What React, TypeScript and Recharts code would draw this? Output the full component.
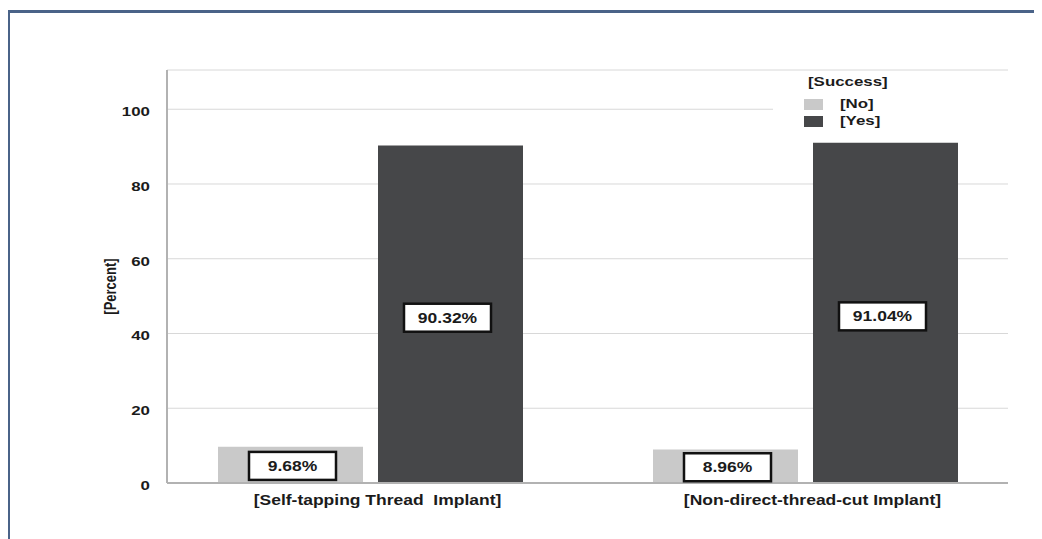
import React from 'react';
import {
  BarChart,
  Bar,
  XAxis,
  YAxis,
  CartesianGrid,
  Legend,
  LabelList,
} from 'recharts';

const categories = ['[Self-tapping Thread  Implant]', '[Non-direct-thread-cut Implant]'];
const noValues = [9.68, 8.96];
const yesValues = [90.32, 91.04];
const yTicks = [0, 20, 40, 60, 80, 100];

const data = categories.map((name, i) => ({ name, no: noValues[i], yes: yesValues[i] }));

// the source picture is stretched sideways, so text is widened to match
const WIDE = 1.25;
const FONT = '"Liberation Sans", Arial, sans-serif';
const INK = '#1b1b1b';

function WideText({ x, y, anchor = 'start', size = 13.5, rotate, children }: any) {
  const rot = rotate ? ` rotate(${rotate})` : '';
  return (
    <g transform={`translate(${x},${y}) scale(${WIDE},1)${rot}`}>
      <text
        x={0}
        y={0}
        textAnchor={anchor}
        fontFamily={FONT}
        fontWeight="bold"
        fontSize={size}
        fill={INK}
        style={{ whiteSpace: 'pre' }}
      >
        {children}
      </text>
    </g>
  );
}

// boxed percentage in the middle of each bar
const valueBox = (dx: number, dy: number) => (props: any) => {
  const { x, y, width, height, value } = props;
  const cx = x + width / 2 + dx;
  const cy = y + height / 2 + dy;
  const w = 87;
  const h = 28;
  return (
    <g>
      <rect x={cx - w / 2} y={cy - h / 2} width={w} height={h} fill="#fff" stroke="#111" strokeWidth={2.5} />
      <WideText x={cx} y={cy + 5} anchor="middle" size={14}>
        {`${Number(value).toFixed(2)}%`}
      </WideText>
    </g>
  );
};

const wide: React.CSSProperties = {
  position: 'absolute',
  display: 'inline-block',
  transform: `scaleX(${WIDE})`,
  transformOrigin: 'left center',
  fontFamily: FONT,
  fontWeight: 'bold',
  fontSize: 13.5,
  color: INK,
  lineHeight: '16px',
  whiteSpace: 'nowrap',
};

function LegendBox({ payload }: any) {
  return (
    <div style={{ position: 'relative', width: '100%', height: '100%' }}>
      <span style={{ ...wide, left: 35, top: 0 }}>[Success]</span>
      {(payload || []).map((item: any, i: number) => (
        <React.Fragment key={i}>
          <div
            style={{
              position: 'absolute',
              left: 31,
              top: 25 + i * 17,
              width: 19,
              height: 11,
              background: item.color,
            }}
          />
          <span style={{ ...wide, left: 67, top: 22 + i * 17 }}>{item.value}</span>
        </React.Fragment>
      ))}
    </div>
  );
}

export default function App() {
  return (
    <div style={{ position: 'relative', width: 1034, height: 531 }}>
      <div style={{ position: 'absolute', left: -1, top: 2, width: 1035, height: 3, background: '#4a6388' }} />
      <div style={{ position: 'absolute', left: -1, top: 2, width: 3, height: 529, background: '#4a6388' }} />
      <div style={{ position: 'absolute', left: 0, top: 0 }}>
        <BarChart
          width={1034}
          height={531}
          data={data}
          margin={{ top: 62, right: 34, left: 99, bottom: 26 }}
          barSize={145}
          barGap={15}
        >
          <CartesianGrid vertical={false} stroke="#d8d8d8" />
          <XAxis
            dataKey="name"
            height={30}
            padding={{ left: -14, right: -15 }}
            axisLine={{ stroke: '#b2b2b2', strokeWidth: 2 }}
            tickLine={false}
            tickSize={0}
            tickMargin={12}
            tick={(p: any) => (
              <WideText x={p.x + 7} y={p.y + 10} anchor="middle" size={14}>
                {p.payload.value}
              </WideText>
            )}
          />
          <YAxis
            width={60}
            domain={[0, 110.5]}
            ticks={yTicks}
            axisLine={{ stroke: '#b2b2b2', strokeWidth: 2 }}
            tickLine={false}
            tickSize={0}
            tickMargin={17}
            tick={(p: any) => (
              <WideText x={p.x} y={p.y + 7} anchor="end" size={13.5}>
                {p.payload.value}
              </WideText>
            )}
            label={(p: any) => {
              const vb = p.viewBox;
              return (
                <WideText x={vb.x + 9} y={vb.y + vb.height / 2 + 10} anchor="middle" size={13} rotate={-90}>
                  [Percent]
                </WideText>
              );
            }}
          />
          <Legend
            layout="horizontal"
            verticalAlign="middle"
            align="center"
            wrapperStyle={{ position: 'absolute', left: 765, top: 66, width: 235, height: 66, background: '#fff' }}
            content={(p: any) => <LegendBox payload={p.payload} />}
          />
          <Bar dataKey="no" name="[No]" fill="#c9c9c9" isAnimationActive={false}>
            <LabelList dataKey="no" content={valueBox(2, 1)} />
          </Bar>
          <Bar dataKey="yes" name="[Yes]" fill="#464749" isAnimationActive={false}>
            <LabelList dataKey="yes" content={valueBox(-3, 3.5)} />
          </Bar>
        </BarChart>
      </div>
    </div>
  );
}
